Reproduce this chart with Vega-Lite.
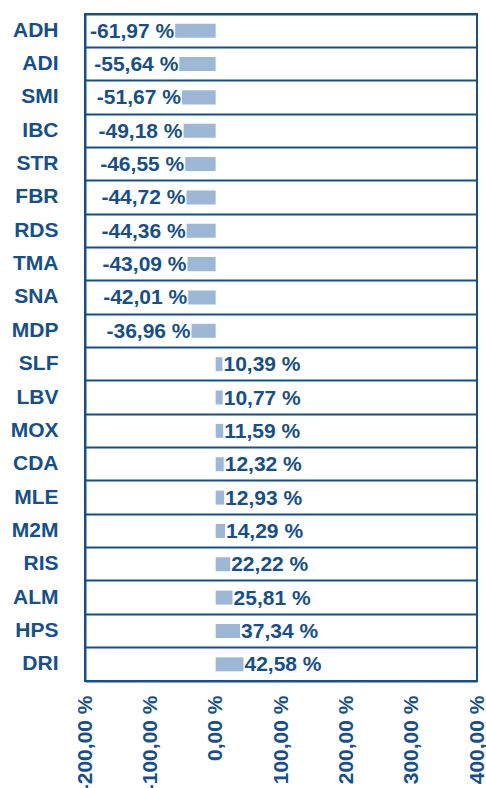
{
  "$schema": "https://vega.github.io/schema/vega-lite/v6.json",
  "autosize": "none",
  "width": 392,
  "height": 667,
  "padding": {"left": 85, "top": 14, "right": 9, "bottom": 107},
  "background": "white",
  "data": {
    "values": [
      {"code": "ADH", "value": -61.97},
      {"code": "ADI", "value": -55.64},
      {"code": "SMI", "value": -51.67},
      {"code": "IBC", "value": -49.18},
      {"code": "STR", "value": -46.55},
      {"code": "FBR", "value": -44.72},
      {"code": "RDS", "value": -44.36},
      {"code": "TMA", "value": -43.09},
      {"code": "SNA", "value": -42.01},
      {"code": "MDP", "value": -36.96},
      {"code": "SLF", "value": 10.39},
      {"code": "LBV", "value": 10.77},
      {"code": "MOX", "value": 11.59},
      {"code": "CDA", "value": 12.32},
      {"code": "MLE", "value": 12.93},
      {"code": "M2M", "value": 14.29},
      {"code": "RIS", "value": 22.22},
      {"code": "ALM", "value": 25.81},
      {"code": "HPS", "value": 37.34},
      {"code": "DRI", "value": 42.58}
    ]
  },
  "encoding": {
    "y": {
      "field": "code",
      "type": "nominal",
      "sort": null,
      "scale": {"paddingInner": 0, "paddingOuter": 0},
      "axis": {
        "title": null,
        "ticks": false,
        "labelPadding": 27,
        "labelFont": "Liberation Sans",
        "labelFontWeight": "bold",
        "labelFontSize": 21,
        "labelColor": "#154f8c",
        "domainColor": "#154f8c",
        "domainWidth": 2,
        "grid": true,
        "gridColor": "#154f8c",
        "gridWidth": 2,
        "bandPosition": 0
      }
    },
    "x": {
      "field": "value",
      "type": "quantitative",
      "scale": {"domain": [-200, 400], "nice": false},
      "axis": {
        "title": null,
        "values": [-200, -100, 0, 100, 200, 300, 400],
        "format": "$.2f",
        "ticks": false,
        "grid": false,
        "labelAngle": 270,
        "labelPadding": 14,
        "labelFont": "Liberation Sans",
        "labelFontWeight": "bold",
        "labelFontSize": 21,
        "labelColor": "#154f8c",
        "domainColor": "#154f8c",
        "domainWidth": 2,
        "labelOverlap": false
      }
    }
  },
  "layer": [
    {
      "mark": {"type": "bar", "color": "#9cb8d6", "height": {"band": 0.42}},
      "encoding": {"x2": {"datum": 0}}
    },
    {
      "transform": [{"filter": "datum.value < 0"}],
      "mark": {"type": "text", "align": "right", "baseline": "middle", "dx": -1, "dy": 1, "font": "Liberation Sans", "fontWeight": "bold", "fontSize": 21, "color": "#154f8c"},
      "encoding": {"text": {"field": "value", "type": "quantitative", "format": "$.2f"}}
    },
    {
      "transform": [{"filter": "datum.value >= 0"}],
      "mark": {"type": "text", "align": "left", "baseline": "middle", "dx": 1, "dy": 1, "font": "Liberation Sans", "fontWeight": "bold", "fontSize": 21, "color": "#154f8c"},
      "encoding": {"text": {"field": "value", "type": "quantitative", "format": "$.2f"}}
    }
  ],
  "config": {
    "locale": {
      "number": {"decimal": ",", "thousands": ".", "grouping": [3], "currency": ["", " %"], "minus": "-"}
    },
    "view": {"stroke": "#154f8c", "strokeWidth": 2}
  }
}
